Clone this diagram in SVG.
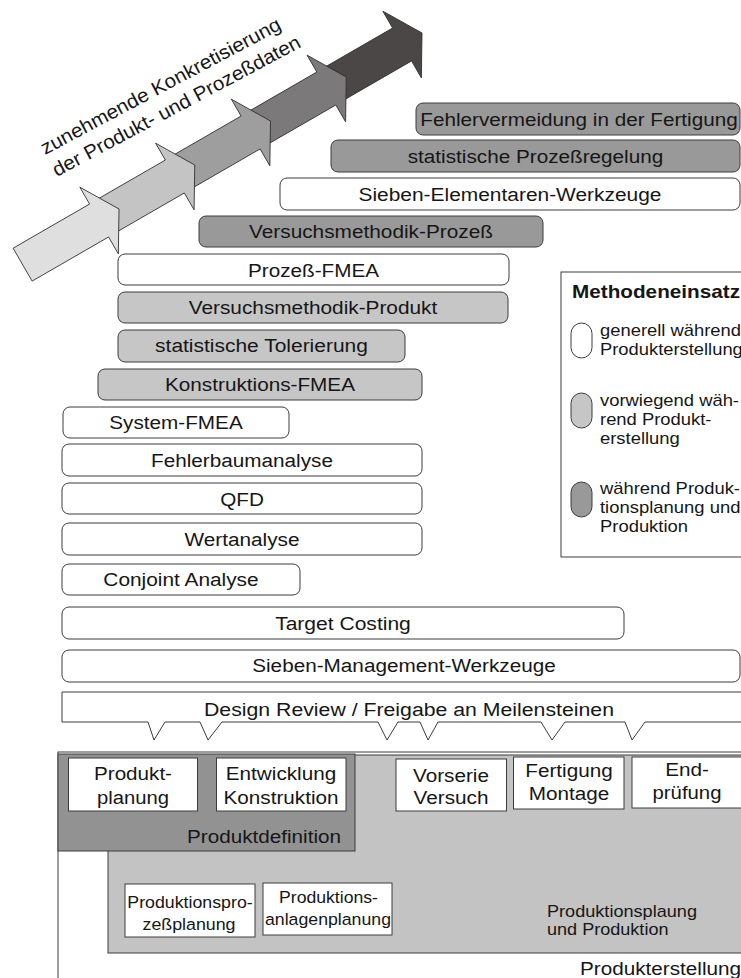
<svg xmlns="http://www.w3.org/2000/svg" width="741" height="978" viewBox="0 0 741 978">
  <style>
    text { font-family: "Liberation Sans", Arial, Helvetica, sans-serif; fill: #161616; }
    .lb { font-size: 18.8px; text-anchor: middle; }
    .st { font-size: 18.8px; }
    .ar { font-size: 19.6px; }
    .sm { font-size: 16.3px; text-anchor: middle; }
    .lg { font-size: 16.6px; }
    .ttl { font-size: 18.6px; font-weight: bold; }
    .bar { stroke: #3c3c3c; stroke-width: 1; }
    .w { fill: #ffffff; }
    .l { fill: #c6c6c6; }
    .d { fill: #999999; }
    .seg { stroke: #2e2e2e; stroke-width: 0.8; stroke-linejoin: miter; }
    .box { fill: #ffffff; stroke: #3c3c3c; stroke-width: 1; }
  </style>
  <defs>
    <!-- one arrow segment, tip at origin, pointing along +x -->
    <path id="seg" d="M-108,-19 H-23 V-38.5 L0,0 L-23,38.5 V19 H-108 Z"/>
    <path id="seg-first" d="M-111.3,-19 H-23 V-38.5 L0,0 L-23,38.5 V19 H-111.3 Z"/>
  </defs>

  <!-- stepped arrow: darkest drawn first, lighter segments overlap it -->
  <g id="progress-arrow">
    <use href="#seg" class="seg" fill="#4b4747" transform="translate(422,33) rotate(-30)"/>
    <use href="#seg" class="seg" fill="#7b7979" transform="translate(346.25,77) rotate(-30)"/>
    <use href="#seg" class="seg" fill="#9e9e9e" transform="translate(270.5,121) rotate(-30)"/>
    <use href="#seg" class="seg" fill="#c4c4c4" transform="translate(194.75,165) rotate(-30)"/>
    <use href="#seg-first" class="seg" fill="#dfdfdf" transform="translate(119,209) rotate(-30)"/>
    <text class="ar" transform="translate(45,155) rotate(-28)" textLength="269" lengthAdjust="spacingAndGlyphs">zunehmende Konkretisierung</text>
    <text class="ar" transform="translate(56.7,177) rotate(-28)" textLength="278" lengthAdjust="spacingAndGlyphs">der Produkt- und Prozeßdaten</text>
  </g>

  <!-- method bars -->
  <g id="fehlervermeidung">
    <rect class="bar d" x="416" y="103" width="324" height="32" rx="7"/>
    <text class="lb" x="579" y="125.6" textLength="317.5" lengthAdjust="spacingAndGlyphs">Fehlervermeidung in der Fertigung</text>
  </g>
  <g id="spc">
    <rect class="bar d" x="331" y="140" width="409" height="32" rx="7"/>
    <text class="lb" x="535.5" y="162.6" textLength="255.5" lengthAdjust="spacingAndGlyphs">statistische Prozeßregelung</text>
  </g>
  <g id="sieben-elementar">
    <rect class="bar w" x="280" y="178" width="460" height="32" rx="7"/>
    <text class="lb" x="510" y="200.6" textLength="303" lengthAdjust="spacingAndGlyphs">Sieben-Elementaren-Werkzeuge</text>
  </g>
  <g id="versuch-prozess">
    <rect class="bar d" x="199" y="216" width="344" height="31" rx="7"/>
    <text class="lb" x="371" y="238" textLength="244" lengthAdjust="spacingAndGlyphs">Versuchsmethodik-Prozeß</text>
  </g>
  <g id="prozess-fmea">
    <rect class="bar w" x="118" y="254" width="391" height="31" rx="7"/>
    <text class="lb" x="313.5" y="277" textLength="131" lengthAdjust="spacingAndGlyphs">Prozeß-FMEA</text>
  </g>
  <g id="versuch-produkt">
    <rect class="bar l" x="118" y="292" width="390" height="31" rx="7"/>
    <text class="lb" x="313" y="314" textLength="248.5" lengthAdjust="spacingAndGlyphs">Versuchsmethodik-Produkt</text>
  </g>
  <g id="tolerierung">
    <rect class="bar l" x="118" y="330" width="287" height="32" rx="7"/>
    <text class="lb" x="261.5" y="352" textLength="212.8" lengthAdjust="spacingAndGlyphs">statistische Tolerierung</text>
  </g>
  <g id="konstruktions-fmea">
    <rect class="bar l" x="98" y="369" width="324" height="31" rx="7"/>
    <text class="lb" x="260" y="391" textLength="190" lengthAdjust="spacingAndGlyphs">Konstruktions-FMEA</text>
  </g>
  <g id="system-fmea">
    <rect class="bar w" x="63" y="407" width="226" height="31" rx="7"/>
    <text class="lb" x="176" y="429" textLength="133.4" lengthAdjust="spacingAndGlyphs">System-FMEA</text>
  </g>
  <g id="fehlerbaum">
    <rect class="bar w" x="62" y="444" width="360" height="32" rx="7"/>
    <text class="lb" x="242" y="467" textLength="181.8" lengthAdjust="spacingAndGlyphs">Fehlerbaumanalyse</text>
  </g>
  <g id="qfd">
    <rect class="bar w" x="62" y="483" width="360" height="31" rx="7"/>
    <text class="lb" x="242" y="505.5" textLength="43.7" lengthAdjust="spacingAndGlyphs">QFD</text>
  </g>
  <g id="wertanalyse">
    <rect class="bar w" x="62" y="523" width="360" height="32" rx="7"/>
    <text class="lb" x="242" y="545.5" textLength="115" lengthAdjust="spacingAndGlyphs">Wertanalyse</text>
  </g>
  <g id="conjoint">
    <rect class="bar w" x="62" y="564" width="238" height="31" rx="7"/>
    <text class="lb" x="181" y="586" textLength="155.3" lengthAdjust="spacingAndGlyphs">Conjoint Analyse</text>
  </g>
  <g id="target-costing">
    <rect class="bar w" x="62" y="607" width="562" height="32" rx="7"/>
    <text class="lb" x="343" y="629.5" textLength="135.7" lengthAdjust="spacingAndGlyphs">Target Costing</text>
  </g>
  <g id="sieben-management">
    <rect class="bar w" x="62" y="650" width="678" height="32" rx="7"/>
    <text class="lb" x="404" y="672" textLength="303.6" lengthAdjust="spacingAndGlyphs">Sieben-Management-Werkzeuge</text>
  </g>

  <!-- milestone callout with notches pointing down to the phases -->
  <g id="design-review">
    <path class="bar w" d="M62,692 H760 V722 H645 L632,740 L625,722 H565 L552,740 L541,722 H438 L428,740 L420,722 H398 L387,740 L378,722 H222 L208,740 L200,722 H165 L154,740 L148,722 H62 Z"/>
    <text class="lb" x="409" y="716" textLength="410" lengthAdjust="spacingAndGlyphs">Design Review / Freigabe an Meilensteinen</text>
  </g>

  <!-- legend -->
  <g id="legend">
    <rect class="box" x="561" y="272" width="200" height="285"/>
    <text class="ttl" x="572" y="298" textLength="168" lengthAdjust="spacingAndGlyphs">Methodeneinsatz</text>
    <rect class="bar w" x="571" y="323" width="21" height="35" rx="10.5"/>
    <text class="lg" x="600" y="336" textLength="141" lengthAdjust="spacingAndGlyphs">generell während</text>
    <text class="lg" x="600" y="355" textLength="142.8" lengthAdjust="spacingAndGlyphs">Produkterstellung</text>
    <rect class="bar l" x="571" y="393" width="21" height="35" rx="10.5"/>
    <text class="lg" x="600" y="406" textLength="139" lengthAdjust="spacingAndGlyphs">vorwiegend wäh-</text>
    <text class="lg" x="600" y="425" textLength="111.5" lengthAdjust="spacingAndGlyphs">rend Produkt-</text>
    <text class="lg" x="600" y="444" textLength="79.8" lengthAdjust="spacingAndGlyphs">erstellung</text>
    <rect class="bar d" x="571" y="482" width="21" height="35" rx="10.5"/>
    <text class="lg" x="600" y="494" textLength="140" lengthAdjust="spacingAndGlyphs">während Produk-</text>
    <text class="lg" x="600" y="513" textLength="140.5" lengthAdjust="spacingAndGlyphs">tionsplanung und</text>
    <text class="lg" x="600" y="532" textLength="88" lengthAdjust="spacingAndGlyphs">Produktion</text>
  </g>

  <!-- phase areas -->
  <g id="produkterstellung">
    <rect class="box" x="58" y="752" width="720" height="260"/>
    <text class="st" x="580" y="975" textLength="161" lengthAdjust="spacingAndGlyphs">Produkterstellung</text>
  </g>
  <g id="produktionsplanung">
    <rect x="108" y="755" width="660" height="198" fill="#c3c3c3" stroke="#3c3c3c" stroke-width="1"/>
    <text class="lg" x="547" y="917" textLength="150" lengthAdjust="spacingAndGlyphs">Produktionsplaung</text>
    <text class="lg" x="547" y="935" textLength="121.5" lengthAdjust="spacingAndGlyphs">und Produktion</text>
  </g>
  <g id="produktdefinition">
    <rect x="58" y="754" width="297" height="97" fill="#929292" stroke="#3c3c3c" stroke-width="1"/>
    <text class="st" x="187" y="843" textLength="154" lengthAdjust="spacingAndGlyphs">Produktdefinition</text>
  </g>

  <!-- phase boxes -->
  <g id="produktplanung">
    <rect class="box" x="68.5" y="758" width="129" height="53"/>
    <text class="lb" x="133" y="780" textLength="78" lengthAdjust="spacingAndGlyphs">Produkt-</text>
    <text class="lb" x="133" y="804" textLength="72" lengthAdjust="spacingAndGlyphs">planung</text>
  </g>
  <g id="entwicklung">
    <rect class="box" x="216.5" y="758" width="129.5" height="53"/>
    <text class="lb" x="281" y="780" textLength="110.4" lengthAdjust="spacingAndGlyphs">Entwicklung</text>
    <text class="lb" x="281" y="804" textLength="115" lengthAdjust="spacingAndGlyphs">Konstruktion</text>
  </g>
  <g id="vorserie">
    <rect class="box" x="396" y="759" width="110.5" height="52"/>
    <text class="lb" x="451" y="782" textLength="76" lengthAdjust="spacingAndGlyphs">Vorserie</text>
    <text class="lb" x="451" y="804" textLength="75" lengthAdjust="spacingAndGlyphs">Versuch</text>
  </g>
  <g id="fertigung">
    <rect class="box" x="513.5" y="757" width="110.5" height="52"/>
    <text class="lb" x="569" y="777" textLength="87.4" lengthAdjust="spacingAndGlyphs">Fertigung</text>
    <text class="lb" x="569" y="800" textLength="80.5" lengthAdjust="spacingAndGlyphs">Montage</text>
  </g>
  <g id="endpruefung">
    <rect class="box" x="632" y="757" width="130" height="51"/>
    <text class="lb" x="687" y="776" textLength="43.7" lengthAdjust="spacingAndGlyphs">End-</text>
    <text class="lb" x="687" y="799" textLength="69" lengthAdjust="spacingAndGlyphs">prüfung</text>
  </g>
  <g id="prozessplanung">
    <rect class="box" x="125" y="884" width="130" height="53"/>
    <text class="sm" x="190" y="908" textLength="125.4" lengthAdjust="spacingAndGlyphs">Produktionspro-</text>
    <text class="sm" x="189" y="930" textLength="93" lengthAdjust="spacingAndGlyphs">zeßplanung</text>
  </g>
  <g id="anlagenplanung">
    <rect class="box" x="263" y="883" width="129" height="52"/>
    <text class="sm" x="328.5" y="903" textLength="99" lengthAdjust="spacingAndGlyphs">Produktions-</text>
    <text class="sm" x="328" y="925" textLength="126" lengthAdjust="spacingAndGlyphs">anlagenplanung</text>
  </g>
</svg>
